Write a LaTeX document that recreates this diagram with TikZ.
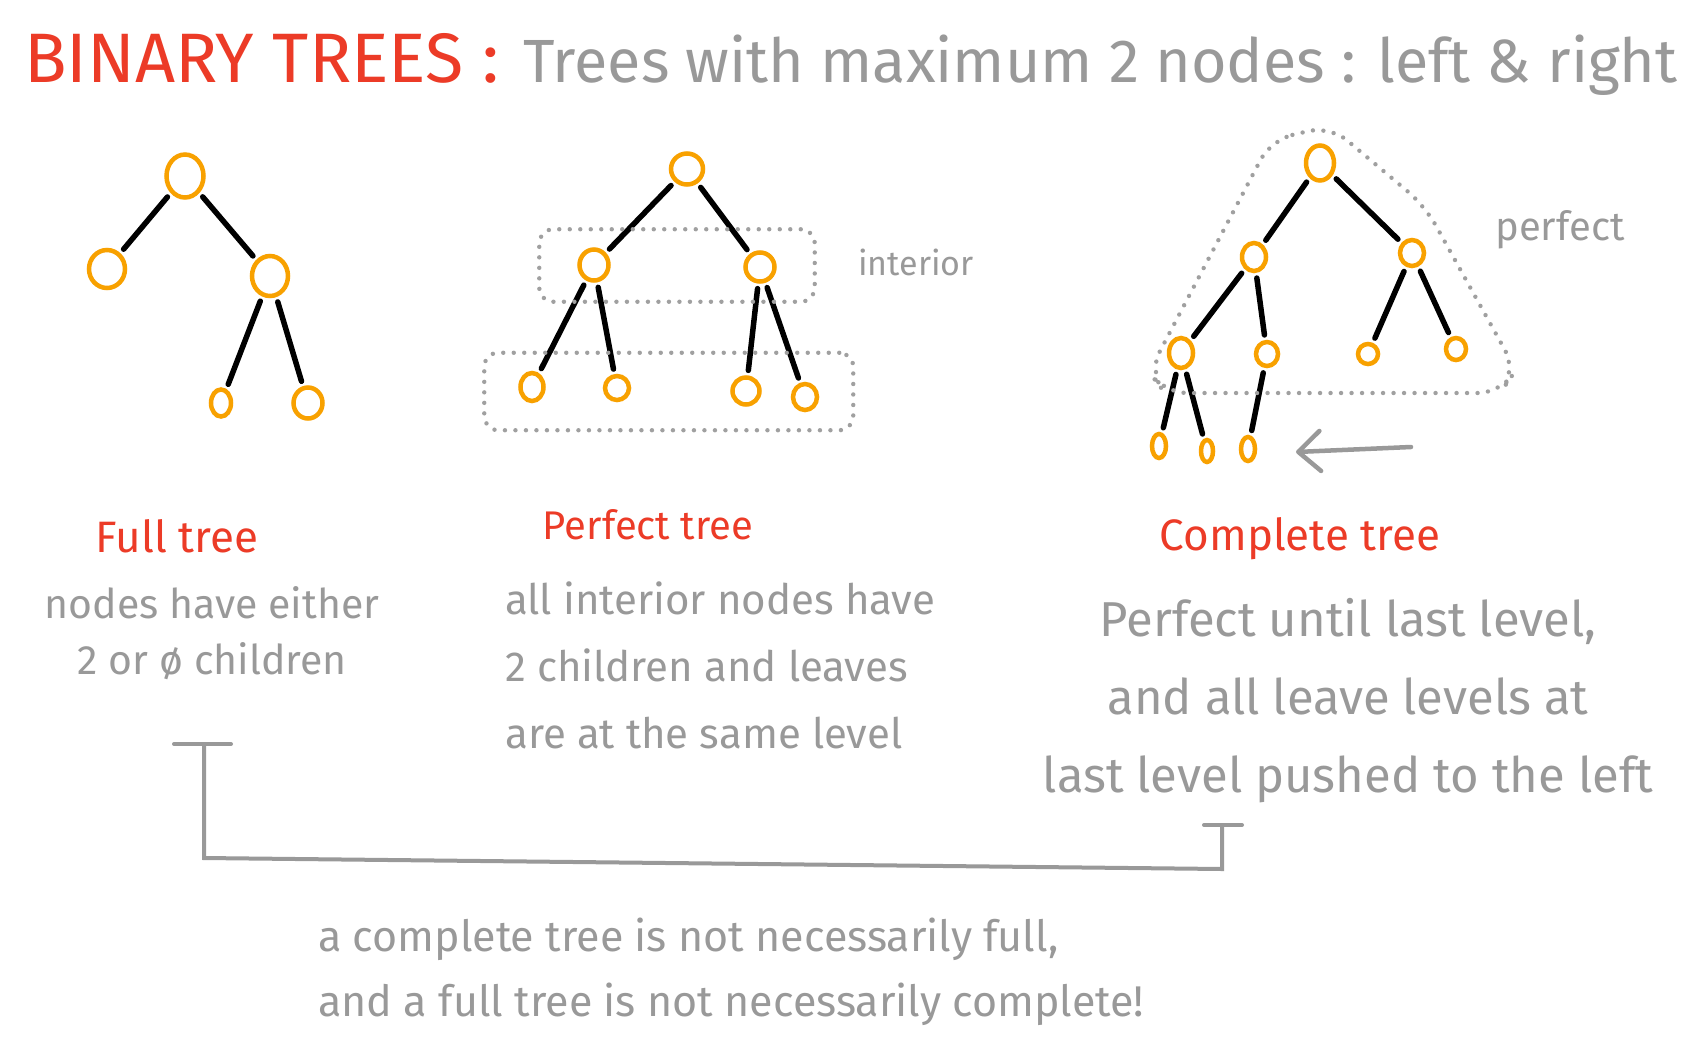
\documentclass[tikz,border=0pt]{standalone}
\usepackage{fontspec}
\setmainfont{Fira Sans}
\usetikzlibrary{arrows.meta,fit,shapes.geometric}
\definecolor{btred}{HTML}{EC3B27}
\definecolor{btgray}{HTML}{999999}
\definecolor{btorange}{HTML}{F8A100}
\definecolor{btdot}{HTML}{A0A0A0}
\tikzset{
  bt/node/.style 2 args={
    ellipse, draw=btorange, line width=4.5pt, inner sep=0pt,
    minimum width=#1, minimum height=#2
  },
  bt/edge/.style={line width=5.5pt, line cap=round, shorten <=5pt, shorten >=5pt},
  bt/dots/.style={
    btdot, line width=4.4pt, line cap=round, dash pattern=on 0pt off 10.5pt,
    rounded corners=14pt
  },
  bt/head/.style={text=btred, inner sep=0pt, font=\fontsize{40}{48}\selectfont},
  bt/note/.style={text=btgray, inner sep=0pt},
  bt/line/.style={btgray, line width=4pt, line cap=round},
  bt/arr/.style={btgray, line width=4.5pt, line cap=round,
    -{Straight Barb[length=22pt, width=40pt, round]}}
}

\begin{document}
\begin{tikzpicture}[x=1pt, y=-1pt]
  \fill[white] (0,0) rectangle (1708,1045);
  \useasboundingbox (0,0) rectangle (1708,1045);

  % title
  \node[bt/head, font=\fontsize{70}{74}\selectfont, anchor=base west]
    (title) at (24,82) {BINARY TREES :};
  \node[bt/note, font=\fontsize{61}{66}\selectfont, anchor=base west]
    (subtitle) at (523,82) {Trees with maximum 2 nodes : left \& right};

  % full tree
  \node[bt/node={37pt}{43pt}] (fRoot) at (185,176) {};
  \node[bt/node={36pt}{38pt}] (fL) at (107,269) {};
  \node[bt/node={36pt}{40pt}] (fR) at (270,276) {};
  \node[bt/node={20pt}{27pt}] (fRL) at (221,403) {};
  \node[bt/node={29pt}{31pt}] (fRR) at (308,403) {};
  \foreach \a/\b in {fRoot/fL, fRoot/fR, fR/fRL, fR/fRR}
    \draw[bt/edge] (\a) -- (\b);

  % perfect tree
  \node[bt/node={32pt}{31pt}] (pRoot) at (687,169) {};
  \node[bt/node={29pt}{31pt}] (pL) at (594,265) {};
  \node[bt/node={29pt}{29pt}] (pR) at (760,267) {};
  \node[bt/node={23pt}{28pt}] (pLL) at (532,387) {};
  \node[bt/node={24pt}{24pt}] (pLR) at (617,388) {};
  \node[bt/node={27pt}{27pt}] (pRL) at (746,391) {};
  \node[bt/node={24pt}{26pt}] (pRR) at (805,397) {};
  \foreach \a/\b in {pRoot/pL, pRoot/pR, pL/pLL, pL/pLR, pR/pRL, pR/pRR}
    \draw[bt/edge] (\a) -- (\b);
  \node[bt/dots, draw, fit=(pL)(pR), inner xsep=38pt, inner ysep=18pt] (pInner) {};
  \node[bt/dots, draw, fit=(pLL)(pRR), inner xsep=34pt, inner ysep=18pt] (pLeaves) {};
  \node[bt/note, font=\fontsize{34}{40}\selectfont] (interiorLbl) at (916,262) {interior};

  % complete tree
  \node[bt/node={28pt}{35pt}] (cRoot) at (1320,163) {};
  \node[bt/node={24pt}{28pt}] (cL) at (1254,257) {};
  \node[bt/node={24pt}{26pt}] (cR) at (1412,253) {};
  \node[bt/node={24pt}{30pt}] (cLL) at (1181,353) {};
  \node[bt/node={22pt}{24pt}] (cLR) at (1267,354) {};
  \node[bt/node={20pt}{20pt}] (cRL) at (1368,354) {};
  \node[bt/node={20pt}{22pt}] (cRR) at (1456,349) {};
  \node[bt/node={14pt}{24pt}] (cLLL) at (1159,446) {};
  \node[bt/node={12pt}{22pt}] (cLLR) at (1207,451) {};
  \node[bt/node={14pt}{24pt}] (cLRL) at (1248,449) {};
  \foreach \a/\b in {cRoot/cL, cRoot/cR, cL/cLL, cL/cLR, cR/cRL, cR/cRR,
                     cLL/cLLL, cLL/cLLR, cLR/cLRL}
    \draw[bt/edge] (\a) -- (\b);
  \draw[bt/dots, rounded corners=22pt]
    (1271,140) -- (1330,126) -- (1425,206) -- (1516,370) -- (1500,393)
    -- (1165,393) -- (1149,372) -- cycle;
  \node[bt/note, font=\fontsize{40}{44}\selectfont] (perfectLbl) at (1560,230) {perfect};
  \coordinate (arrS) at (1411,447);
  \coordinate (arrE) at (1296,452);
  \draw[bt/arr] (arrS) -- (arrE);

  % headings and notes
  \node[bt/head, anchor=base, font=\fontsize{44}{48}\selectfont] (fullHead) at (177,552) {Full tree};
  \node[bt/head, anchor=base] (perfHead) at (648,539) {Perfect tree};
  \node[bt/head, anchor=base, font=\fontsize{44}{48}\selectfont] (compHead) at (1300,550) {Complete tree};
  \node[bt/note, font=\fontsize{41}{56}\selectfont, align=center, anchor=north]
    (fullText) at (212,586) {nodes have either\\2 or ø children};
  \node[bt/note, font=\fontsize{42}{67}\selectfont, align=left, anchor=north west]
    (perfText) at (505,582) {all interior nodes have\\2 children and leaves\\are at the same level};
  \node[bt/note, font=\fontsize{49}{78}\selectfont, align=center, anchor=north]
    (compText) at (1348,598) {Perfect until last level,\\and all leave levels at\\last level pushed to the left};

  % bracket between full and complete
  \coordinate (brL) at (204,744);
  \coordinate (brBL) at (204,858);
  \coordinate (brBR) at (1222,869);
  \coordinate (brR) at (1222,825);
  \draw[bt/line] (brL) -- (brBL) -- (brBR) -- (brR);
  \draw[bt/line] ([xshift=-30pt]brL) -- ([xshift=27pt]brL);
  \draw[bt/line] ([xshift=-18pt]brR) -- ([xshift=20pt]brR);
  \node[bt/note, font=\fontsize{43}{65}\selectfont, align=left, anchor=north west]
    (bottomText) at (318,918) {a complete tree is not necessarily full,\\and a full tree is not necessarily complete!};
\end{tikzpicture}
\end{document}
